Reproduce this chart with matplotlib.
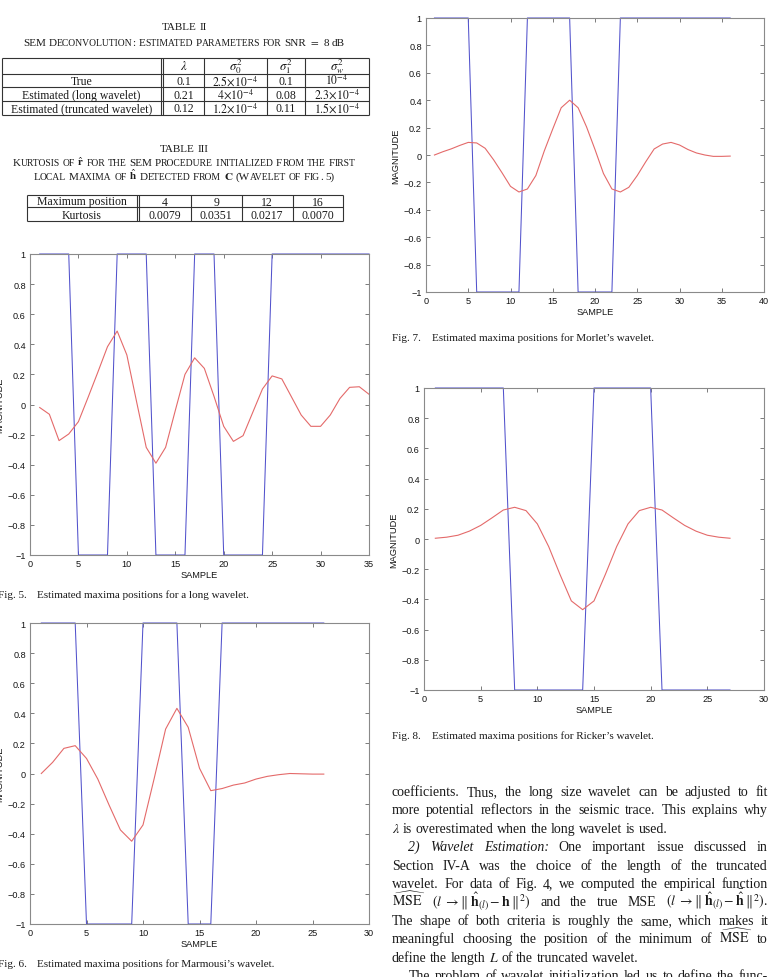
import numpy as np
import matplotlib
matplotlib.use('Agg')
import matplotlib.pyplot as plt
from matplotlib.ticker import FuncFormatter

# ---------------- data ----------------
fig5_red = [-0.02, -0.065, -0.24, -0.196, -0.114, 0.048, 0.214, 0.384, 0.488, 0.329,
            0.02, -0.285, -0.39, -0.285, -0.04, 0.2, 0.31, 0.24, 0.054, -0.145,
            -0.245, -0.207, -0.052, 0.103, 0.19, 0.17, 0.05, -0.07, -0.145, -0.145,
            -0.07, 0.04, 0.114, 0.118, 0.068]
fig5_blue = [1]*4 + [-1]*4 + [1]*4 + [-1]*4 + [1]*3 + [-1]*5 + [1]*11

fig6_red = [0.0, 0.074, 0.167, 0.185, 0.10, -0.037, -0.21, -0.375, -0.45, -0.342,
            -0.03, 0.295, 0.433, 0.307, 0.035, -0.114, -0.1, -0.077, -0.063, -0.037,
            -0.019, -0.008, 0.0, -0.002, -0.004, -0.004]
fig6_blue = [1]*4 + [-1]*5 + [1]*4 + [-1]*3 + [1]*10

fig7_red = [0.0, 0.024, 0.045, 0.07, 0.092, 0.088, 0.049, -0.035, -0.13, -0.229,
            -0.27, -0.248, -0.15, 0.03, 0.19, 0.345, 0.40, 0.345, 0.205, 0.04,
            -0.135, -0.248, -0.27, -0.236, -0.15, -0.05, 0.044, 0.08, 0.092, 0.073,
            0.04, 0.015, 0.0, -0.01, -0.01, -0.008]
fig7_blue = [1]*5 + [-1]*6 + [1]*6 + [-1]*5 + [1]*14

fig8_red = [0.005, 0.012, 0.025, 0.052, 0.09, 0.14, 0.192, 0.21, 0.188, 0.10,
            -0.05, -0.235, -0.41, -0.468, -0.41, -0.235, -0.05, 0.10, 0.188, 0.21,
            0.192, 0.14, 0.09, 0.052, 0.025, 0.012, 0.005]
fig8_blue = [1]*7 + [-1]*7 + [1]*6 + [-1]*7

t2_header = ['', r'$\lambda$', r'$\sigma_0^2$', r'$\sigma_1^2$', r'$\sigma_w^2$']
t2_rows = ['True', 'Estimated (long wavelet)', 'Estimated (truncated wavelet)']
t2_lambda = ['0.1', '0.21', '0.12']
t2_sigma0 = [r'$2.5\!\times\!10^{-4}$', r'$4\!\times\!10^{-4}$', r'$1.2\!\times\!10^{-4}$']
t2_sigma1 = ['0.1', '0.08', '0.11']
t2_sigmaw = [r'$10^{-4}$', r'$2.3\!\times\!10^{-4}$', r'$1.5\!\times\!10^{-4}$']

t3_positions = ['4', '9', '12', '16']
t3_kurtosis = ['0.0079', '0.0351', '0.0217', '0.0070']

t2_title = "TABLE II"
t2_sub = "SEM Deconvolution: Estimated Parameters for SNR $=$ 8 !dB"
t3_title = "TABLE III"
t3_sub1 = r"Kurtosis of $\hat{\mathbf{r}}$ for the SEM Procedure Initialized From the First"
t3_sub2 = r"Local Maxima of $\hat{\mathbf{h}}$ Detected From $\mathbf{C}$ (Wavelet of Fig. 5)"

captions = {5: "Estimated maxima positions for a long wavelet.",
            6: "Estimated maxima positions for Marmousi\u2019s wavelet.",
            7: "Estimated maxima positions for Morlet\u2019s wavelet.",
            8: "Estimated maxima positions for Ricker\u2019s wavelet."}

body_lines = [
    "coefficients. Thus, the long size wavelet can be adjusted to fit",
    "more potential reflectors in the seismic trace. This explains why",
    r"$\lambda$ is overestimated when the long wavelet is used.",
    "_2) _Wavelet _Estimation: One important issue discussed in",
    "Section IV-A was the choice of the length of the truncated",
    "wavelet. For data of Fig. 4, we computed the empirical function",
    r"$\widehat{\mathrm{MSE}}$ $(l\;\rightarrow\Vert\;\hat{\mathbf{h}}_{(l)}-\mathbf{h}\;\Vert^2)$ and the true MSE $(l\;\rightarrow\Vert\;\hat{\mathbf{h}}_{(l)}-\bar{\hat{\mathbf{h}}}\;\Vert^2)$.",
    "The shape of both criteria is roughly the same, which makes it",
    r"meaningful choosing the position of the minimum of $\widehat{\mathrm{MSE}}$ to",
    r"define the length $L$ of the truncated wavelet.",
    "The problem of wavelet initialization led us to define the func-",
]
body_indent = [0, 0, 0, 1, 0, 0, 0, 0, 0, 0, 1]
body_justify = [1, 1, 0, 1, 1, 1, 1, 1, 1, 0, 1]

# ---------------- setup ----------------
plt.rcParams['mathtext.fontset'] = 'stix'
plt.rcParams['font.family'] = ['Liberation Sans', 'DejaVu Sans']
SERIF = ['Liberation Serif', 'DejaVu Serif']
RED = '#e46a6a'
BLUE = '#5252cc'
INK = '#1a1a1a'

W, H = 771, 978
fig = plt.figure(figsize=(W / 100, H / 100), dpi=100)
fig.patch.set_facecolor('white')
ov = fig.add_axes([0, 0, 1, 1])
ov.set_xlim(0, W)
ov.set_ylim(H, 0)
ov.axis('off')
renderer = fig.canvas.get_renderer()


def _w(s, **kw):
    t = ov.text(0, 0, s, **kw)
    w = t.get_window_extent(renderer=renderer).width
    t.remove()
    return w


def measure(s, **kw):
    # advance width, robust against ink-bbox effects
    return _w('|' + s + '|', **kw) - _w('||', **kw)


def tokenize(s):
    toks, cur, inmath = [], '', False
    for ch in s:
        if ch == '$':
            inmath = not inmath
        if ch == ' ' and not inmath:
            if cur:
                toks.append(cur)
            cur = ''
        else:
            cur += ch
    if cur:
        toks.append(cur)
    return toks


def body_words(s, size):
    words = []
    for tok in tokenize(s):
        kw = dict(fontsize=size, family=SERIF, color=INK)
        if tok.startswith('_'):
            tok = tok[1:]
            kw['style'] = 'italic'
        words.append([(tok, kw)])
    return words


def smallcap_words(s, big, small):
    words = []
    for tok in tokenize(s):
        if tok.startswith('$') or tok.startswith('!'):
            words.append([(tok.lstrip('!'), dict(fontsize=big, family=SERIF, color=INK))])
            continue
        runs = []
        for ch in tok:
            if ch.islower():
                txt, sz = ch.upper(), small
            else:
                txt, sz = ch, big
            if runs and runs[-1][1] == sz:
                runs[-1][0] += txt
            else:
                runs.append([txt, sz])
        words.append([(t, dict(fontsize=sz, family=SERIF, color=INK)) for t, sz in runs])
    return words


def draw_words(words, x, y, mode='left', width=None):
    wl = [[measure(t, **kw) for t, kw in w] for w in words]
    widths = [sum(a) for a in wl]
    kw0 = dict(words[0][0][1])
    kw0.pop('style', None)
    space = measure(' ', **kw0)
    if mode == 'justify' and len(words) > 1:
        gap = (width - sum(widths)) / (len(words) - 1)
    else:
        gap = space
    total = sum(widths) + gap * (len(words) - 1)
    x0 = x - total / 2 if mode == 'center' else x
    for w, ws in zip(words, wl):
        cx = x0
        for (t, kw), tw in zip(w, ws):
            ov.text(cx, y, t, ha='left', va='baseline', **kw)
            cx += tw
        x0 += sum(ws) + gap


# ---------------- tables ----------------
LC = '#333333'
LW = 0.8


def hline(x0, x1, y):
    ov.plot([x0, x1], [y, y], color=LC, lw=LW, solid_capstyle='butt')


def vline(x, y0, y1):
    ov.plot([x, x], [y0, y1], color=LC, lw=LW, solid_capstyle='butt')


TC = 184
BIG, SMALL = 8.0, 6.95
draw_words(smallcap_words(t2_title, BIG, SMALL), TC, 30, mode='center')
draw_words(smallcap_words(t2_sub, BIG, SMALL), TC, 45.5, mode='center')

# Table II grid
tx0, tx1, ty0, ty1 = 2, 369, 59.3, 116
for yy in (ty0, 75, 88.3, 101.7, ty1):
    hline(tx0, tx1, yy)
for xx in (tx0, 161, 163.3, 204, 266.7, 305, tx1):
    vline(xx, ty0, ty1)
col_c = [81.5, 183.5, 235.5, 286, 337]
for j, h in enumerate(t2_header):
    if h:
        ov.text(col_c[j], 70.5, h, ha='center', va='baseline', fontsize=9.2, family=SERIF, color=INK)
row_base = [85.3, 98.8, 112.3]
for i in range(3):
    vals = [t2_rows[i], t2_lambda[i], t2_sigma0[i], t2_sigma1[i], t2_sigmaw[i]]
    for j, v in enumerate(vals):
        ov.text(col_c[j], row_base[i], v, ha='center', va='baseline', fontsize=8.5, family=SERIF, color=INK)

draw_words(smallcap_words(t3_title, BIG, SMALL), TC, 151.5, mode='center')
draw_words(smallcap_words(t3_sub1, BIG, SMALL), TC, 166.5, mode='center')
draw_words(smallcap_words(t3_sub2, BIG, SMALL), TC, 179.5, mode='center')

# Table III grid
ux0, ux1, uy0, uy1 = 27.3, 343.3, 196, 222.3
for yy in (uy0, 208.3, uy1):
    hline(ux0, ux1, yy)
for xx in (ux0, 136.7, 139.3, 191, 241.7, 292.7, ux1):
    vline(xx, uy0, uy1)
col3 = [82, 165, 216.3, 267.2, 318]
ov.text(col3[0], 205.5, 'Maximum position', ha='center', va='baseline', fontsize=8.5, family=SERIF, color=INK)
ov.text(col3[0], 218.8, 'Kurtosis', ha='center', va='baseline', fontsize=8.5, family=SERIF, color=INK)
for j in range(4):
    ov.text(col3[j + 1], 205.5, t3_positions[j], ha='center', va='baseline', fontsize=8.5, family=SERIF, color=INK)
    ov.text(col3[j + 1], 218.8, t3_kurtosis[j], ha='center', va='baseline', fontsize=8.5, family=SERIF, color=INK)


# ---------------- panels ----------------
def fmt(v, p):
    if abs(v) < 1e-9:
        return '0'
    return ('%g' % round(v, 1)).replace('-', '\u2212')


def panel(l, r, t, b, red, blue, xmax):
    ax = fig.add_axes([l / W, 1 - b / H, (r - l) / W, (b - t) / H])
    ax.plot(np.arange(1, len(blue) + 1), blue, color=BLUE, lw=0.75, clip_on=False, zorder=2.4)
    ax.plot(np.arange(1, len(red) + 1), red, color=RED, lw=0.8, zorder=2.7)
    ax.set_xlim(0, xmax)
    ax.set_ylim(-1, 1)
    ax.set_xticks(np.arange(0, xmax + 1, 5))
    ax.set_yticks(np.round(np.arange(-1, 1.01, 0.2), 1))
    ax.yaxis.set_major_formatter(FuncFormatter(fmt))
    ax.tick_params(direction='in', length=3, width=0.6, color='#666666', top=True, right=True,
                   labelsize=6.6, labelcolor='#151515', pad=3)
    for s in ax.spines.values():
        s.set_color('#8a8a8a')
        s.set_linewidth(0.8)
        s.set_zorder(2.5)
    ax.set_xlabel('SAMPLE', fontsize=6.7, color='#151515', labelpad=1.5)
    ax.set_ylabel('MAGNITUDE', fontsize=6.7, color='#151515', labelpad=2.5)
    return ax


panel(30, 369, 255, 556, fig5_red, fig5_blue, 35)
panel(30, 369, 624, 925, fig6_red, fig6_blue, 30)
panel(426, 764, 19, 293, fig7_red, fig7_blue, 40)
panel(424, 764, 389, 691, fig8_red, fig8_blue, 30)


# ---------------- captions ----------------
def caption(x, y, num):
    ov.text(x, y, 'Fig. %d.' % num, ha='left', va='baseline', fontsize=8, family=SERIF, color=INK)
    ov.text(x + 39.5, y, captions[num], ha='left', va='baseline', fontsize=8, family=SERIF, color=INK)


caption(-2.5, 597.7, 5)
caption(-2.5, 966.7, 6)
caption(392, 340.7, 7)
caption(392, 739.3, 8)

# ---------------- body text ----------------
BX0, BX1 = 392, 768
base = 796
for i, line in enumerate(body_lines):
    x = BX0 + (16.5 if body_indent[i] else 0)
    words = body_words(line, 10)
    y = base + i * 18.4
    if body_justify[i]:
        draw_words(words, x, y, mode='justify', width=BX1 - x)
    else:
        draw_words(words, x, y, mode='left')

fig.savefig('out.png', dpi=100)
